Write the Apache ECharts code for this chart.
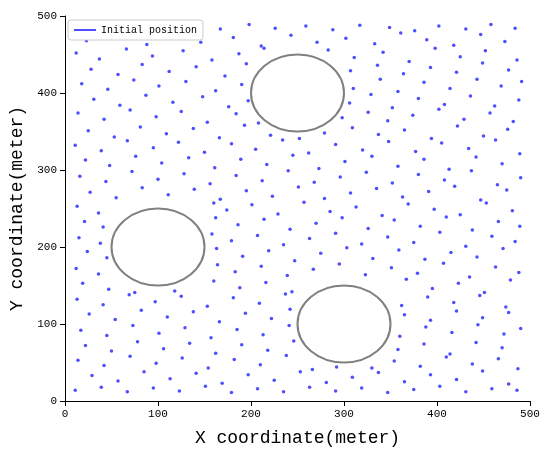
<!DOCTYPE html>
<html>
<head>
<meta charset="utf-8" />
<script src="https://cdn.jsdelivr.net/npm/echarts@6/dist/echarts.min.js"></script>
</head>
<body style="margin:0">
<div id="main" style="width:550px;height:460px;"></div>
<script type="text/javascript">
// obstacles: [cx, cy, r]
var obstacles = [[250, 400, 50], [100, 200, 50], [300, 100, 50]];
var ticks = [0, 100, 200, 300, 400, 500];
// initial node positions
var points = [
[15,485],[42,482],[78,488],[105,481],[133,486],[167,483],[198,489],[226,484],[259,487],[288,482],[317,488],[349,485],[376,481],[402,487],[431,483],[458,489],[484,484],
[23,468],[51,474],[88,463],[119,477],[146,466],[181,472],[211,461],[243,475],[271,466],[302,471],[333,464],[361,478],[389,469],[418,462],[447,476],[473,467],
[12,452],[37,444],[66,457],[94,448],[127,455],[158,443],[187,451],[214,458],[283,456],[311,446],[342,453],[370,441],[398,458],[425,447],[452,455],[486,443],
[28,431],[57,424],[83,437],[112,428],[141,434],[172,422],[195,438],[307,429],[336,436],[364,425],[393,433],[421,427],[449,439],[477,430],
[18,412],[46,405],[74,417],[101,409],[130,415],[162,403],[190,411],[310,406],[339,418],[358,402],[386,414],[414,406],[443,418],[469,409],[491,415],
[31,392],[59,384],[87,397],[116,388],[148,395],[176,382],[197,390],[306,387],[329,398],[352,381],[380,393],[408,385],[436,396],[462,383],[488,391],
[14,374],[42,366],[70,378],[98,369],[125,376],[153,362],[184,373],[208,361],[298,368],[326,375],[347,364],[374,371],[402,379],[429,366],[457,374],[482,363],
[25,351],[53,343],[81,356],[109,347],[138,354],[166,342],[193,358],[221,345],[252,341],[279,348],[309,355],[337,346],[365,352],[394,341],[422,357],[450,344],[476,353],
[11,332],[39,325],[67,338],[95,329],[122,336],[150,323],[179,334],[205,327],[234,339],[262,322],[291,333],[320,326],[348,337],[377,324],[405,335],[434,328],[463,339],[489,321],
[22,313],[48,306],[76,318],[104,309],[133,316],[161,303],[189,314],[217,307],[245,319],[273,302],[301,311],[330,318],[358,305],[386,314],[413,301],[442,317],[470,308],
[16,292],[44,285],[72,298],[100,288],[128,295],[156,282],[184,293],[212,286],[240,299],[268,284],[296,291],[324,297],[352,283],[380,294],[408,287],[437,299],[465,281],[490,290],
[27,271],[55,264],[83,277],[111,268],[139,275],[167,262],[195,273],[223,266],[251,278],[279,263],[307,270],[335,276],[363,265],[391,272],[419,279],[447,261],[475,274],
[13,253],[36,244],[160,257],[174,248],[201,255],[229,243],[257,258],[285,246],[313,252],[341,241],[369,256],[397,249],[425,242],[453,257],[481,247],
[21,233],[41,226],[162,238],[186,229],[214,236],[242,223],[270,231],[298,238],[326,224],[354,235],[382,227],[410,239],[438,222],[466,233],[489,227],
[15,212],[38,205],[158,217],[179,208],[207,215],[235,203],[263,211],[291,218],[319,204],[347,213],[375,206],[403,219],[431,201],[459,214],[484,207],
[24,194],[45,186],[163,198],[191,188],[219,195],[247,182],[275,192],[303,199],[331,185],[359,196],[387,184],[415,193],[443,187],[471,198],
[12,172],[36,165],[164,177],[183,168],[211,175],[239,163],[267,171],[295,178],[323,164],[351,173],[379,166],[407,179],[435,161],[463,174],[488,167],
[19,153],[47,145],[75,141],[118,143],[160,156],[188,147],[216,154],[244,142],[367,158],[395,146],[423,153],[451,141],[479,157],
[13,132],[41,125],[69,138],[97,129],[125,136],[153,123],[181,134],[209,127],[237,139],[362,124],[390,135],[418,128],[446,137],[474,122],
[26,113],[54,106],[82,118],[110,109],[138,116],[166,103],[194,114],[222,107],[242,119],[365,112],[393,105],[421,117],[449,108],[477,115],
[17,92],[45,85],[73,98],[101,88],[129,95],[157,82],[185,93],[213,86],[241,98],[360,84],[388,96],[416,89],[444,99],[472,87],[490,94],
[22,72],[50,65],[78,77],[106,68],[134,75],[162,62],[190,73],[218,66],[246,78],[358,67],[386,74],[414,61],[442,76],[470,69],
[14,53],[42,46],[70,58],[98,49],[126,56],[154,43],[182,54],[210,47],[238,59],[266,41],[292,44],[330,43],[354,52],[382,45],[410,57],[438,48],[466,55],[487,42],
[29,33],[57,26],[85,38],[113,29],[141,36],[169,23],[197,34],[225,27],[253,38],[281,24],[309,31],[337,37],[365,25],[393,34],[421,28],[449,39],[477,22],
[11,14],[39,18],[67,12],[95,17],[123,13],[151,19],[179,11],[207,16],[235,12],[263,18],[291,13],[319,17],[347,11],[375,15],[403,19],[431,12],[459,16],[486,14]
];

var font = '"Liberation Mono", "DejaVu Sans Mono", monospace';
var myChart = echarts.init(document.getElementById('main'));
var option = {
    animation: false,
    grid: { left: 65, right: 20, top: 16, bottom: 59 },
    legend: {
        data: ['Initial position'],
        left: 68, top: 20,
        orient: 'vertical',
        icon: 'rect', itemWidth: 22, itemHeight: 2,
        backgroundColor: '#fff',
        borderColor: '#ccc', borderWidth: 1, borderRadius: 3,
        padding: [5, 6],
        textStyle: { fontSize: 10, fontFamily: font, color: '#000' },
        z: 10
    },
    xAxis: {
        type: 'value', min: 0, max: 500, interval: 100,
        name: 'X coordinate(meter)', nameLocation: 'middle', nameGap: 28,
        nameTextStyle: { fontSize: 18, fontFamily: font, color: '#000' },
        axisLine: { lineStyle: { color: '#000' } },
        axisTick: { lineStyle: { color: '#000' } },
        axisLabel: { color: '#000', fontFamily: font, fontSize: 11 },
        splitLine: { show: false }
    },
    yAxis: {
        type: 'value', min: 0, max: 500, interval: 100,
        name: 'Y coordinate(meter)', nameLocation: 'middle', nameGap: 38,
        nameTextStyle: { fontSize: 18, fontFamily: font, color: '#000' },
        axisLine: { show: true, lineStyle: { color: '#000' } },
        axisTick: { show: true, lineStyle: { color: '#000' } },
        axisLabel: { color: '#000', fontFamily: font, fontSize: 11 },
        splitLine: { show: false }
    },
    series: [
        {
            name: 'Initial position',
            type: 'scatter',
            symbolSize: 3.5,
            itemStyle: { color: '#2222ff' },
            data: points
        },
        {
            type: 'custom',
            silent: true,
            data: obstacles,
            renderItem: function (params, api) {
                var c = api.coord([api.value(0), api.value(1)]);
                var r = api.value(2);
                var s = api.size([r, r]);
                return {
                    type: 'ellipse',
                    shape: { cx: c[0], cy: c[1], rx: s[0], ry: s[1] },
                    style: { fill: '#fff', stroke: '#808080', lineWidth: 2 }
                };
            }
        }
    ]
};
myChart.setOption(option);
</script>
</body>
</html>
